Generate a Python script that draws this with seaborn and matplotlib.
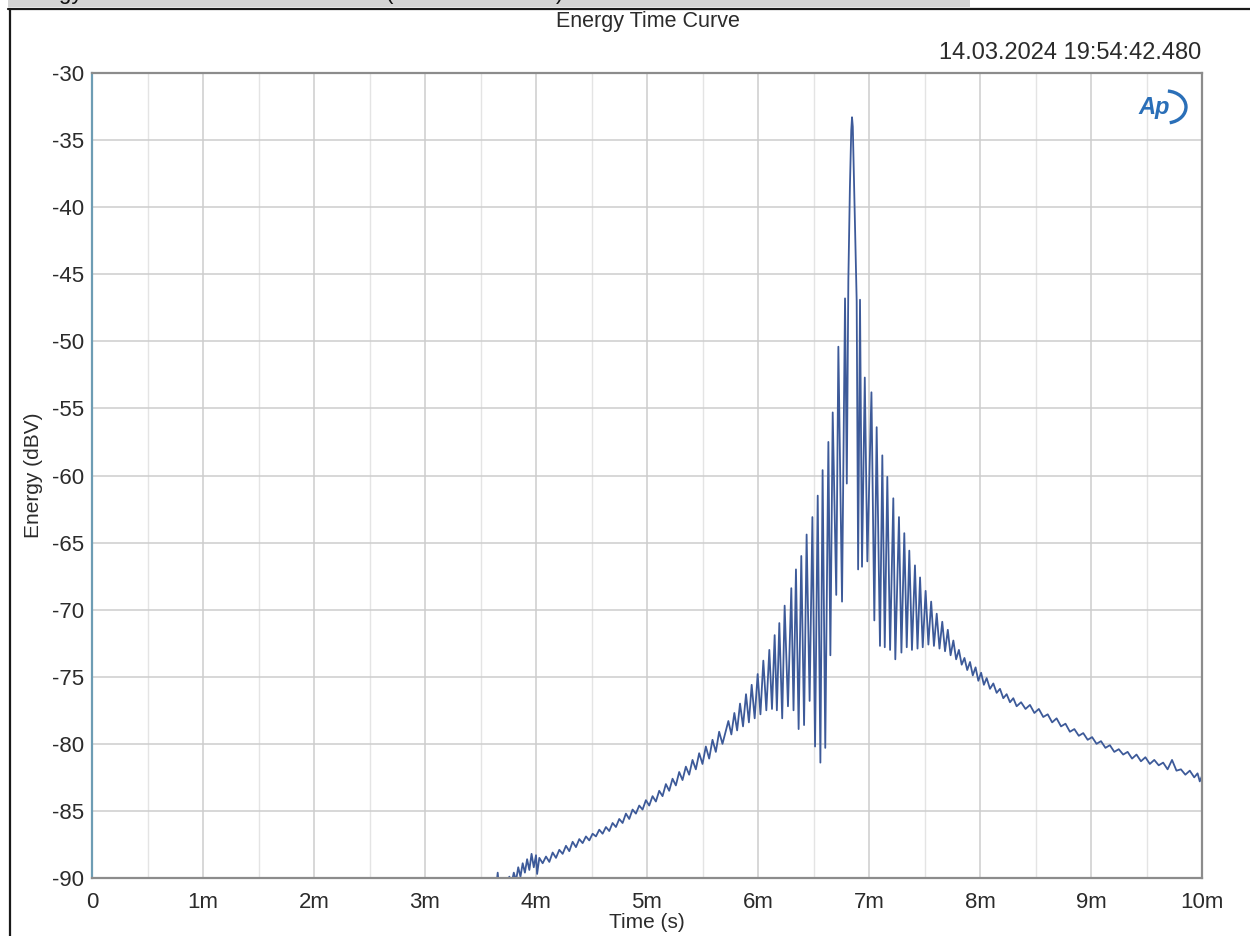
import numpy as np
import pandas as pd
import matplotlib
matplotlib.use("Agg")
import matplotlib.pyplot as plt
from matplotlib.lines import Line2D
from matplotlib.patches import Rectangle, Arc
import seaborn as sns

# ---- data: energy time curve (time in ms, energy in dBV) ----
# slow rise of the noise floor before the arrival
rise_t = [3.60, 3.64, 3.655, 3.67, 3.72, 3.76, 3.78, 3.80, 3.82, 3.84, 3.86, 3.88,
          3.90, 3.92, 3.94, 3.96, 3.98, 4.00, 4.01, 4.03, 4.06, 4.09, 4.12, 4.15,
          4.18, 4.21, 4.24, 4.27, 4.30, 4.33, 4.36, 4.39, 4.42, 4.45, 4.48, 4.51,
          4.54, 4.57, 4.60, 4.63, 4.66, 4.69, 4.72, 4.75, 4.78, 4.81, 4.84, 4.87,
          4.90, 4.93, 4.96, 4.99, 5.02, 5.05, 5.08, 5.11, 5.14, 5.17, 5.20, 5.23,
          5.26, 5.29, 5.32, 5.35, 5.38, 5.41, 5.44, 5.47, 5.50, 5.53, 5.56, 5.59,
          5.62, 5.65, 5.68]
rise_db = [-91.0, -90.8, -89.6, -91.0, -90.6, -89.9, -90.4, -89.6, -90.2, -89.2, -89.9, -88.9,
           -89.6, -88.6, -89.4, -88.2, -89.2, -88.3, -89.7, -88.5, -88.9, -88.4, -88.8, -88.1,
           -88.5, -87.9, -88.2, -87.6, -88.0, -87.3, -87.7, -87.1, -87.4, -86.9, -87.2, -86.7,
           -86.9, -86.4, -86.7, -86.2, -86.5, -85.9, -86.2, -85.6, -85.9, -85.2, -85.6, -84.9,
           -85.2, -84.6, -84.9, -84.2, -84.6, -83.9, -84.3, -83.5, -83.9, -83.0, -83.5, -82.6,
           -83.1, -82.1, -82.7, -81.7, -82.3, -81.2, -81.9, -80.7, -81.5, -80.2, -81.1, -79.7,
           -80.6, -79.1, -80.0]

# main arrival with its comb of peaks and notches
burst_t = [5.733, 5.760, 5.787, 5.812, 5.838, 5.865, 5.892, 5.918, 5.943, 5.970,
           5.997, 6.022, 6.048, 6.075, 6.102, 6.126, 6.150, 6.170, 6.192, 6.218,
           6.240, 6.270, 6.300, 6.320, 6.342, 6.366, 6.390, 6.415, 6.438, 6.465,
           6.490, 6.514, 6.538, 6.562, 6.582, 6.606, 6.634, 6.652, 6.673, 6.705,
           6.724, 6.757, 6.784, 6.800, 6.814, 6.828, 6.840, 6.847, 6.854, 6.866,
           6.880, 6.889, 6.902, 6.919, 6.937, 6.962, 6.985, 7.022, 7.048, 7.069,
           7.099, 7.120, 7.142, 7.165, 7.190, 7.219, 7.237, 7.270, 7.292, 7.318,
           7.340, 7.363, 7.387, 7.414, 7.437, 7.460, 7.484, 7.510, 7.535, 7.560,
           7.585, 7.610, 7.635, 7.660, 7.685, 7.710, 7.735, 7.760, 7.785, 7.810,
           7.835, 7.860]
burst_db = [-78.3, -79.3, -77.7, -79.0, -77.0, -78.7, -76.3, -78.4, -75.6, -78.1,
            -74.8, -77.8, -73.8, -77.5, -73.0, -77.4, -71.9, -77.5, -71.0, -78.1,
            -69.7, -77.2, -68.4, -77.5, -67.0, -78.9, -66.0, -78.6, -64.4, -76.8,
            -63.1, -80.2, -61.5, -81.4, -59.6, -80.3, -57.5, -73.4, -55.3, -68.9,
            -50.4, -69.4, -46.8, -60.6, -45.4, -38.5, -34.3, -33.3, -34.0, -38.5,
            -44.0, -47.0, -67.0, -46.9, -66.8, -52.7, -66.4, -53.8, -70.8, -56.4,
            -72.7, -58.5, -72.8, -60.1, -73.0, -61.7, -73.7, -63.1, -73.2, -64.3,
            -72.8, -65.6, -73.0, -66.7, -72.9, -67.6, -72.8, -68.6, -72.6, -69.4,
            -72.7, -70.3, -72.9, -70.9, -73.1, -71.5, -73.4, -72.3, -73.7, -73.0,
            -74.1, -73.6]

# decaying tail
decay_t = [7.885, 7.91, 7.935, 7.96, 7.985, 8.01, 8.035, 8.06, 8.09, 8.12,
           8.15, 8.18, 8.21, 8.24, 8.27, 8.30, 8.33, 8.37, 8.41, 8.45,
           8.49, 8.53, 8.57, 8.61, 8.65, 8.69, 8.73, 8.77, 8.81, 8.85,
           8.89, 8.93, 8.97, 9.01, 9.05, 9.09, 9.13, 9.17, 9.21, 9.25,
           9.29, 9.33, 9.37, 9.41, 9.45, 9.49, 9.53, 9.57, 9.61, 9.65,
           9.69, 9.73, 9.77, 9.81, 9.85, 9.89, 9.93, 9.96, 9.98, 10.0]
decay_db = [-74.5, -73.9, -74.9, -74.3, -75.3, -74.7, -75.6, -75.1, -75.9, -75.5,
            -76.2, -75.9, -76.6, -76.3, -76.9, -76.6, -77.2, -76.9, -77.4, -77.1,
            -77.7, -77.4, -78.0, -77.8, -78.4, -78.1, -78.7, -78.5, -79.1, -78.9,
            -79.4, -79.2, -79.7, -79.5, -80.0, -79.8, -80.3, -80.1, -80.6, -80.4,
            -80.8, -80.6, -81.1, -80.8, -81.3, -81.0, -81.5, -81.2, -81.6, -81.4,
            -81.9, -81.2, -82.0, -81.9, -82.3, -82.0, -82.5, -82.2, -82.8, -82.4]

x_ticks = [0, 1, 2, 3, 4, 5, 6, 7, 8, 9, 10]
x_tick_labels = ["0", "1m", "2m", "3m", "4m", "5m", "6m", "7m", "8m", "9m", "10m"]
y_ticks = [-30, -35, -40, -45, -50, -55, -60, -65, -70, -75, -80, -85, -90]

title = "Energy Time Curve"
timestamp = "14.03.2024 19:54:42.480"

df = pd.DataFrame({
    "time_ms": rise_t + burst_t + decay_t,
    "energy_dbv": rise_db + burst_db + decay_db,
})

# ---- style ----
sns.set_style("white")
plt.rcParams["font.family"] = ["Liberation Sans", "DejaVu Sans"]
plt.rcParams["axes.unicode_minus"] = False
text_col = "#2b2b2b"

W, H = 1250, 936
fig = plt.figure(figsize=(W / 100, H / 100), dpi=100)
fig.patch.set_facecolor("white")

# window chrome: grey caption strip (its text runs off the top) and panel border
fig.add_artist(Rectangle((8 / W, 1 - 7 / H), (970 - 8) / W, 7 / H,
                         transform=fig.transFigure, facecolor="#d4d4d4",
                         edgecolor="none"))
caption_y = 1 + 1.0 / H
fig.text(12 / W, caption_y, "Energy", fontsize=16, color="#111111",
         va="baseline", ha="left")
fig.text(386 / W, caption_y, "(", fontsize=16, color="#111111",
         va="baseline", ha="left")
fig.text(556 / W, caption_y, ")", fontsize=16, color="#111111",
         va="baseline", ha="left")
fig.add_artist(Line2D([8 / W, 1], [1 - 8.5 / H, 1 - 8.5 / H],
                      transform=fig.transFigure, color="#1a1a1a", lw=1.6))
fig.add_artist(Line2D([10 / W, 10 / W], [0, 1 - 8.5 / H],
                      transform=fig.transFigure, color="#1a1a1a", lw=1.6))

ax = fig.add_axes([92 / W, 1 - 878 / H, (1202 - 92) / W, (878 - 73) / H])

sns.lineplot(data=df, x="time_ms", y="energy_dbv", ax=ax, color="#3d5a99",
             lw=1.3, estimator=None, sort=False)

ax.set_xlim(0, 10)
ax.set_ylim(-90, -30)
ax.set_xticks(x_ticks)
ax.set_xticklabels(x_tick_labels)
ax.set_yticks(y_ticks)
ax.set_yticklabels([str(v) for v in y_ticks])
ax.set_xticks(np.arange(0.5, 10, 1.0), minor=True)

ax.grid(True, which="major", color="#cdcdcd", lw=1.1)
ax.grid(True, which="minor", axis="x", color="#e4e4e4", lw=1.0)
ax.set_axisbelow(True)

for side in ("top", "right", "bottom"):
    ax.spines[side].set_color("#8c8c8c")
    ax.spines[side].set_linewidth(1.6)
ax.spines["left"].set_color("#6e9db4")
ax.spines["left"].set_linewidth(1.6)

ax.tick_params(axis="both", which="both", length=0, labelsize=16,
               labelcolor=text_col)
ax.tick_params(axis="x", pad=10)
ax.tick_params(axis="y", pad=6)

ax.set_xlabel("Time (s)", fontsize=15, color=text_col, labelpad=0)
ax.set_ylabel("Energy (dBV)", fontsize=15, color=text_col, labelpad=6)

fig.text(648 / W, 1 - 22 / H, title, fontsize=15.5, color=text_col,
         ha="center", va="center")
fig.text(1201 / W, 1 - 53 / H, timestamp, fontsize=17, color=text_col,
         ha="right", va="center")

# AP badge in the upper right corner of the plot area
ax.text(0.957, 0.957, "Ap", transform=ax.transAxes, fontsize=17,
        fontstyle="italic", fontweight="bold", color="#2a6fb8",
        ha="center", va="center")
fig.add_artist(Arc((1166 / W, 1 - 107 / H), 40 / W, 32 / H, theta1=-80,
                   theta2=85, transform=fig.transFigure, color="#2a6fb8",
                   lw=2.4))

fig.savefig("out.png", dpi=100)
